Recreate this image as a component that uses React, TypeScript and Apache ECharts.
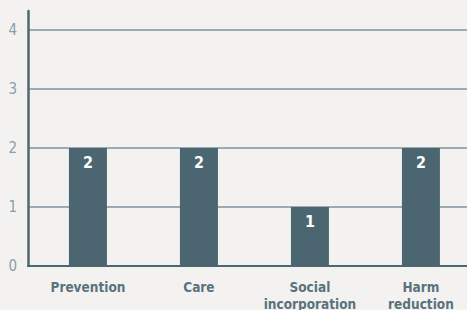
import React, { useEffect, useRef } from "react";
import * as echarts from "echarts";

const categories = ["Prevention", "Care", "Social incorporation", "Harm reduction"];
const values = [2, 2, 1, 2];
const yTicks = [0, 1, 2, 3, 4];

const COND = "'DejaVu Sans Condensed', 'Liberation Sans Narrow', Roboto, sans-serif";

export default function App() {
  const ref = useRef<HTMLDivElement>(null);
  useEffect(() => {
    document.body.style.margin = "0";
    document.body.style.background = "#f3f2f0";
    const chart = echarts.init(ref.current!, undefined, { renderer: "svg" });
    const idx = categories.map((_, i) => i);
    chart.setOption({
      animation: false,
      backgroundColor: "#f3f2f0",
      grid: { left: 28, right: 0, top: 11, bottom: 44, containLabel: false, outerBoundsMode: "none" },
      xAxis: {
        type: "value",
        min: -0.54,
        max: 3.415,
        axisLine: { show: true, onZero: false, lineStyle: { color: "#4d6771", width: 2 } },
        axisTick: { show: false },
        splitLine: { show: false },
        axisLabel: {
          customValues: idx,
          formatter: (v: number) => (categories[Math.round(v)] || "").replace(" ", "\n"),
          color: "#5a727c",
          fontFamily: COND,
          fontWeight: "bold",
          fontSize: 13.5,
          lineHeight: 17,
          margin: 12,
        },
      },
      yAxis: {
        type: "value",
        min: 0,
        max: 4.32,
        interval: 1,
        axisLine: { show: true, onZero: false, lineStyle: { color: "#4d6771", width: 2.5 } },
        axisTick: { show: false },
        splitLine: { show: true, showMaxLine: false, lineStyle: { color: "#7d939c", width: 1.5 } },
        axisLabel: {
          customValues: yTicks,
          color: "#8a9ea6",
          fontFamily: COND,
          fontWeight: 300,
          fontSize: 15,
          margin: 11,
        },
      },
      series: [
        {
          type: "bar",
          barWidth: 38,
          data: idx.map((i) => [i, values[i]]),
          itemStyle: { color: "#4b6670" },
          label: {
            show: true,
            position: "insideTop",
            distance: 7,
            formatter: (p: any) => String(p.value[1]),
            color: "#ffffff",
            fontFamily: COND,
            fontWeight: "bold",
            fontSize: 16,
          },
        },
      ],
    });
    return () => chart.dispose();
  }, []);
  return <div ref={ref} style={{ width: 467, height: 310 }} />;
}
